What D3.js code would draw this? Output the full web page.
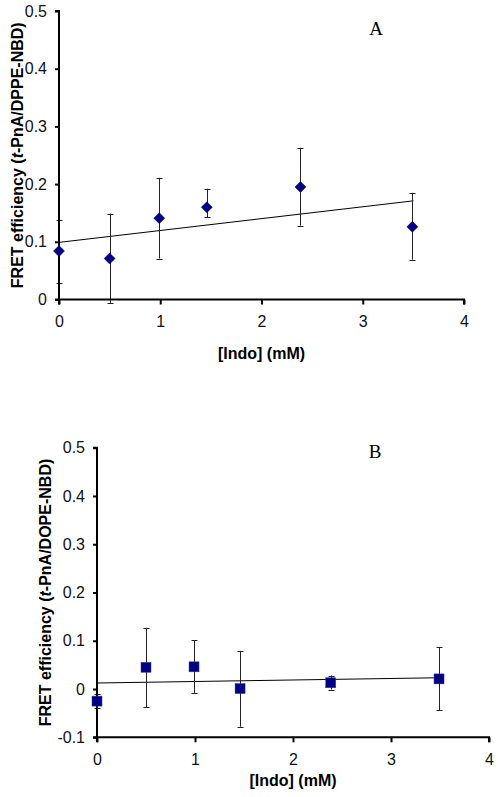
<!DOCTYPE html>
<html><head><meta charset="utf-8">
<script src="https://cdn.jsdelivr.net/npm/d3@7"></script>
<style>body{margin:0;background:#fff}svg{display:block}</style>
</head><body>
<script>
const indo = [0, 0.5, 0.99, 1.46, 2.385, 3.49];
const fretA = [0.084, 0.071, 0.141, 0.160, 0.195, 0.126];
const errLoA = [0.029, -0.006, 0.071, 0.143, 0.128, 0.069];
const errHiA = [0.138, 0.149, 0.211, 0.192, 0.263, 0.185];
const trendA = [[0, 0.099], [3.5, 0.171]];
const fretB = [-0.025, 0.045, 0.046, 0.001, 0.013, 0.021];
const errLoB = [-0.040, -0.038, -0.008, -0.078, -0.001, -0.044];
const errHiB = [-0.010, 0.127, 0.101, 0.079, 0.028, 0.087];
const trendB = [[0, 0.0125], [3.5, 0.0234]];
const xTicks = [0, 1, 2, 3, 4];
const yTicksA = [0, 0.1, 0.2, 0.3, 0.4, 0.5];
const yTicksB = [-0.1, 0, 0.1, 0.2, 0.3, 0.4, 0.5];

const FONT = "Liberation Sans, Arial, sans-serif";
const svg = d3.select("body").append("svg").attr("width", 498).attr("height", 797);

function panel(o) {
  const g = svg.append("g");
  const x = d3.scaleLinear().domain([0, 4]).range([o.x0, o.x1]);
  const y = d3.scaleLinear().domain(o.yDomain).range([o.y0, o.y1]);
  // trend line
  g.append("path").datum(o.trend)
    .attr("d", d3.line().x(d => x(d[0])).y(d => y(d[1])))
    .attr("fill", "none").attr("stroke", "#000").attr("stroke-width", 1);
  // error bars
  const eb = g.append("g").attr("stroke", "#222").attr("stroke-width", 1);
  indo.forEach((v, i) => {
    const cx = Math.round(x(v)) + 0.5;
    eb.append("line").attr("x1", cx).attr("x2", cx).attr("y1", y(o.lo[i])).attr("y2", y(o.hi[i]));
    [o.lo[i], o.hi[i]].forEach(e => eb.append("line").attr("x1", cx - 3).attr("x2", cx + 3).attr("y1", Math.round(y(e)) + 0.5).attr("y2", Math.round(y(e)) + 0.5));
  });
  // axes
  const ya = g.append("g").attr("transform", `translate(${o.x0},0)`)
    .call(d3.axisLeft(y).tickValues(o.yTicks).tickSize(4).tickPadding(8).tickFormat(d => d === 0 ? "0" : String(+d.toFixed(1))));
  const xa = g.append("g").attr("transform", `translate(0,${o.y0})`)
    .call(d3.axisBottom(x).tickValues(xTicks).tickSize(5).tickPadding(11).tickFormat(d3.format("d")));
  [ya, xa].forEach(a => {
    a.select(".domain").attr("stroke", "#000").attr("stroke-width", 2);
    a.selectAll(".tick line").attr("stroke", "#000").attr("stroke-width", 2);
    a.selectAll(".tick text").attr("font-family", FONT).attr("font-size", 16).attr("fill", "#111");
  });
  ya.select(".domain").attr("d", `M-4,${o.y1}H0V${o.y0}H-4`);
  xa.select(".domain").attr("d", `M${o.x0},5V0H${o.x1}V5`);
  // markers
  const m = g.append("g");
  indo.forEach((v, i) => {
    const px = x(v), py = y(o.vals[i]);
    if (o.shape === "diamond") {
      m.append("path").attr("d", "M0,-5.5L5.5,0L0,5.5L-5.5,0Z")
        .attr("transform", `translate(${px},${py})`)
        .attr("fill", "#000080").attr("stroke", "#000080").attr("stroke-width", 0.5);
    } else {
      m.append("rect").attr("x", px - 5).attr("y", py - 5).attr("width", 10).attr("height", 10)
        .attr("fill", "#000080").attr("stroke", "#3a3aa0").attr("stroke-width", 0.5);
    }
  });
  // titles
  g.append("text").attr("x", (o.x0 + o.x1) / 2).attr("y", o.xTitleY).attr("text-anchor", "middle")
    .attr("font-family", FONT).attr("font-weight", "bold").attr("font-size", 16)
    .text("[Indo] (mM)");
  const yt = g.append("text").attr("transform", `translate(${o.yTitleX},${(o.y0 + o.y1) / 2}) rotate(-90)`)
    .attr("text-anchor", "middle").attr("font-family", FONT)
    .attr("font-weight", "bold").attr("font-size", 16);
  yt.append("tspan").text("FRET efficiency (");
  yt.append("tspan").attr("font-style", "italic").text("t");
  yt.append("tspan").text(o.probe);
  g.append("text").attr("x", o.labX).attr("y", o.labY).attr("text-anchor", "middle")
    .attr("font-family", "Liberation Serif, Times New Roman, serif").attr("font-size", 19).text(o.label);
}

panel({x0: 59, x1: 464, y0: 299.5, y1: 11, yDomain: [0, 0.5], yTicks: yTicksA,
  vals: fretA, lo: errLoA, hi: errHiA, trend: trendA, shape: "diamond",
  xTitleY: 359, yTitleX: 23, probe: "-PnA/DPPE-NBD)", label: "A", labX: 376, labY: 35});
panel({x0: 97, x1: 489, y0: 737.3, y1: 447.7, yDomain: [-0.1, 0.5], yTicks: yTicksB,
  vals: fretB, lo: errLoB, hi: errHiB, trend: trendB, shape: "square",
  xTitleY: 786, yTitleX: 51, probe: "-PnA/DOPE-NBD)", label: "B", labX: 375, labY: 458});
</script>
</body></html>
